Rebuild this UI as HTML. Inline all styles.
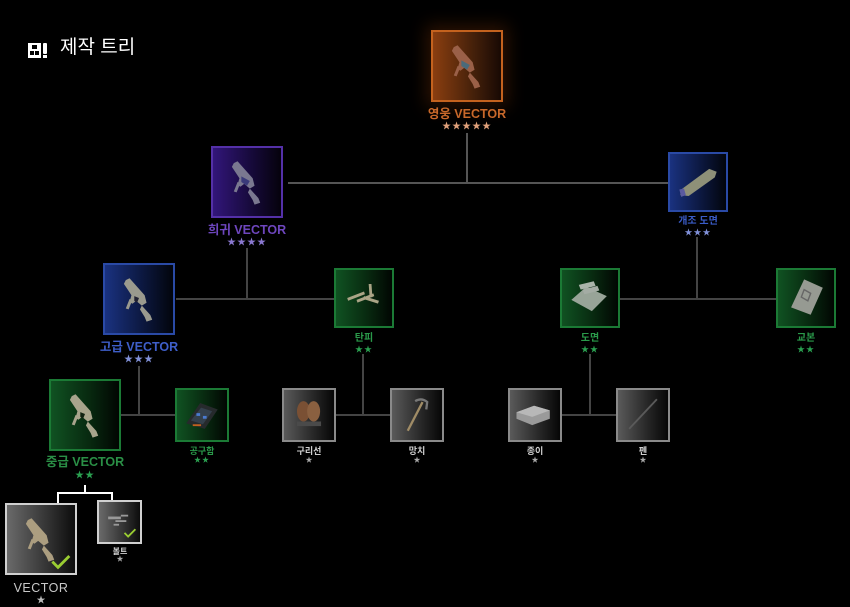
<!DOCTYPE html>
<html><head><meta charset="utf-8">
<style>
*{margin:0;padding:0;box-sizing:border-box}
html,body{width:850px;height:607px;background:#000;overflow:hidden}
body{position:relative;font-family:"Liberation Sans","Noto Sans CJK KR",sans-serif}
.b{position:absolute;border:2px solid}
.o{border-color:#c4621e;background:linear-gradient(to right,#8a3e10,#44200a 60%,#180904);box-shadow:0 0 16px 5px rgba(170,70,10,0.25)}
.p{border-color:#5430a8;background:linear-gradient(to right,#32167a,#170a3c 55%,#05020c)}
.u{border-color:#2a4aa6;background:linear-gradient(to right,#1a3280,#0c1840 55%,#02050c)}
.g{border-color:#1b7a35;background:linear-gradient(to right,#105222,#082a10 55%,#010602)}
.s{border-color:#8a8a8a;background:linear-gradient(to right,#5a5a5a,#262626 60%,#060606)}
.w{border-color:#d0d0d0;background:linear-gradient(to right,#6a6a6a,#333 60%,#0c0c0c)}
.b svg{position:absolute;left:0;top:0;width:100%;height:100%}
.l{position:absolute;text-align:center;white-space:nowrap;font-weight:bold}
.st{position:absolute;text-align:center;white-space:nowrap;line-height:10px}
.ln{position:absolute;background:#444}
</style></head><body>

<!-- title -->
<svg style="position:absolute;left:28px;top:43px" width="20" height="15" viewBox="0 0 20 15">
<rect x="0" y="0" width="13" height="15" fill="#fff"/>
<rect x="4" y="2" width="5" height="4" fill="#000"/>
<rect x="2" y="8" width="4" height="4" fill="#000"/>
<rect x="7" y="8" width="4" height="4" fill="#000"/>
<rect x="15" y="0" width="4" height="11" rx="1" fill="#fff"/>
<rect x="15" y="12" width="4" height="3" fill="#fff"/>
</svg>
<div style="position:absolute;left:60px;top:36px;font-size:19px;line-height:24px;color:#fff">제작 트리</div>

<!-- connector lines -->
<div class="ln" style="left:466px;top:133px;width:2px;height:51px;background:#555"></div>
<div class="ln" style="left:288px;top:182px;width:380px;height:2px;background:#555"></div>
<div class="ln" style="left:696px;top:237px;width:2px;height:62px"></div>
<div class="ln" style="left:246px;top:248px;width:2px;height:51px"></div>
<div class="ln" style="left:176px;top:298px;width:158px;height:2px"></div>
<div class="ln" style="left:619px;top:298px;width:157px;height:2px"></div>
<div class="ln" style="left:362px;top:354px;width:2px;height:61px"></div>
<div class="ln" style="left:336px;top:414px;width:54px;height:2px"></div>
<div class="ln" style="left:138px;top:366px;width:2px;height:49px"></div>
<div class="ln" style="left:121px;top:414px;width:54px;height:2px"></div>
<div class="ln" style="left:589px;top:354px;width:2px;height:61px"></div>
<div class="ln" style="left:562px;top:414px;width:54px;height:2px"></div>
<!-- white connector -->
<div class="ln" style="left:84px;top:485px;width:2px;height:9px;background:#fff"></div>
<div class="ln" style="left:57px;top:492px;width:56px;height:2px;background:#fff"></div>
<div class="ln" style="left:57px;top:492px;width:2px;height:11px;background:#fff"></div>
<div class="ln" style="left:111px;top:492px;width:2px;height:8px;background:#fff"></div>

<!-- hero -->
<div class="b o" style="left:431px;top:30px;width:72px;height:72px">
<svg viewBox="0 0 72 72"><g fill="#9a6048"><polygon points="22,16 26,14 42,32 44,40 39,43 33,38 29,41 26,39 28,32 20,20"/><polygon points="39,43 48,53 50,58 44,60 42,55 37,47"/><polygon points="26,36 29,37 25,47 22,46"/></g><polygon points="30,30 39,35 36,40 30,36" fill="#4a6a7a"/></svg></div>
<div class="l" style="left:407px;width:120px;top:106px;font-size:12.5px;line-height:16px;color:#c8682a">영웅 VECTOR</div>
<div class="st" style="left:407px;width:120px;top:121px;font-size:9px;color:#e0a07a;letter-spacing:1px">★★★★★</div>

<!-- rare -->
<div class="b p" style="left:211px;top:146px;width:72px;height:72px">
<svg viewBox="0 0 72 72"><g fill="#7a7890"><polygon points="22,16 26,14 42,32 44,40 39,43 33,38 29,41 26,39 28,32 20,20"/><polygon points="39,43 48,53 50,58 44,60 42,55 37,47"/><polygon points="26,36 29,37 25,47 22,46"/></g><polygon points="30,30 39,35 36,40 30,36" fill="#3a3a7a"/></svg></div>
<div class="l" style="left:187px;width:120px;top:222px;font-size:12.5px;line-height:16px;color:#6e46be">희귀 VECTOR</div>
<div class="st" style="left:187px;width:120px;top:237px;font-size:9px;color:#8a78d0;letter-spacing:1px">★★★★</div>

<!-- 개조 도면 -->
<div class="b u" style="left:668px;top:152px;width:60px;height:60px">
<svg viewBox="0 0 60 60"><polygon points="12,38 42,16 50,19 48,25 20,45 11,44" fill="#8e9078"/><polygon points="10,38 15,37 17,44 12,46" fill="#5a5aa0"/></svg></div>
<div class="l" style="left:648px;width:100px;top:215px;font-size:10px;line-height:14px;color:#3a5cc8">개조 도면</div>
<div class="st" style="left:648px;width:100px;top:228px;font-size:8px;color:#8090d8;letter-spacing:1px">★★★</div>

<!-- 고급 -->
<div class="b u" style="left:103px;top:263px;width:72px;height:72px">
<svg viewBox="0 0 72 72"><g fill="#9a9a8e"><polygon points="22,16 26,14 42,32 44,40 39,43 33,38 29,41 26,39 28,32 20,20"/><polygon points="39,43 48,53 50,58 44,60 42,55 37,47"/><polygon points="26,36 29,37 25,47 22,46"/></g><polygon points="31,33 36,35 34,40 31,38" fill="#223"/></svg></div>
<div class="l" style="left:79px;width:120px;top:339px;font-size:12.5px;line-height:16px;color:#3e5ec8">고급 VECTOR</div>
<div class="st" style="left:79px;width:120px;top:354px;font-size:9px;color:#8090d8;letter-spacing:1px">★★★</div>

<!-- 탄피 -->
<div class="b g" style="left:334px;top:268px;width:60px;height:60px">
<svg viewBox="0 0 60 60"><g fill="#aaa486"><polygon points="12,30 30,23 31,26 13,33"/><polygon points="22,32 40,25 41,28 23,35"/><polygon points="30,28 46,33 45,36 29,31"/><polygon points="35,15 38,15 39,29 36,29"/></g></svg></div>
<div class="l" style="left:314px;width:100px;top:332px;font-size:10px;line-height:14px;color:#2a9a4a">탄피</div>
<div class="st" style="left:314px;width:100px;top:345px;font-size:8px;color:#2aa050;letter-spacing:1px">★★</div>

<!-- 도면 -->
<div class="b g" style="left:560px;top:268px;width:60px;height:60px">
<svg viewBox="0 0 60 60"><polygon points="10,32 26,18 48,28 32,44" fill="#98a498"/><polygon points="18,16 34,12 36,17 20,21" fill="#aab4aa"/><polygon points="22,21 38,17 40,22 24,26" fill="#a4aca4"/></svg></div>
<div class="l" style="left:540px;width:100px;top:332px;font-size:10px;line-height:14px;color:#2a9a4a">도면</div>
<div class="st" style="left:540px;width:100px;top:345px;font-size:8px;color:#2aa050;letter-spacing:1px">★★</div>

<!-- 교본 -->
<div class="b g" style="left:776px;top:268px;width:60px;height:60px">
<svg viewBox="0 0 60 60"><polygon points="14,40 28,10 48,19 35,48" fill="#969a92"/><polygon points="28,21 35,25 32,33 25,29" fill="none" stroke="#666" stroke-width="1.5"/></svg></div>
<div class="l" style="left:756px;width:100px;top:332px;font-size:10px;line-height:14px;color:#2a9a4a">교본</div>
<div class="st" style="left:756px;width:100px;top:345px;font-size:8px;color:#2aa050;letter-spacing:1px">★★</div>

<!-- 중급 -->
<div class="b g" style="left:49px;top:379px;width:72px;height:72px">
<svg viewBox="0 0 72 72"><g fill="#a8a48c"><polygon points="22,16 26,14 42,32 44,40 39,43 33,38 29,41 26,39 28,32 20,20"/><polygon points="39,43 48,53 50,58 44,60 42,55 37,47"/><polygon points="26,36 29,37 25,47 22,46"/></g><polygon points="31,33 36,35 34,40 31,38" fill="#121"/></svg></div>
<div class="l" style="left:25px;width:120px;top:454px;font-size:12.5px;line-height:16px;color:#2a8f46">중급 VECTOR</div>
<div class="st" style="left:25px;width:120px;top:470px;font-size:9px;color:#2aa050;letter-spacing:1px">★★</div>

<!-- 공구함 -->
<div class="b g" style="left:175px;top:388px;width:54px;height:54px">
<svg viewBox="0 0 54 54"><polygon points="10,36 25,14 44,21 30,42" fill="#262a2c"/><polygon points="15,33 26,19 38,23 28,37" fill="#34404c"/><rect x="21" y="25" width="4" height="3" fill="#4a7ad0"/><rect x="28" y="28" width="4" height="3" fill="#4a7ad0"/><rect x="17" y="37" width="9" height="2" fill="#c06020"/></svg></div>
<div class="l" style="left:152px;width:100px;top:445px;font-size:9px;line-height:12px;color:#2a9a4a">공구함</div>
<div class="st" style="left:152px;width:100px;top:456px;font-size:7px;color:#2aa050;letter-spacing:1px">★★</div>

<!-- 구리선 -->
<div class="b s" style="left:282px;top:388px;width:54px;height:54px">
<svg viewBox="0 0 54 54"><ellipse cx="21" cy="23" rx="7" ry="11" fill="#7a5034"/><ellipse cx="32" cy="23" rx="7" ry="11" fill="#8a6040"/><rect x="14" y="34" width="26" height="5" fill="#4a4a4a"/></svg></div>
<div class="l" style="left:259px;width:100px;top:445px;font-size:9px;line-height:12px;color:#d0d0d0">구리선</div>
<div class="st" style="left:259px;width:100px;top:456px;font-size:7px;color:#aaa">★</div>

<!-- 망치 -->
<div class="b s" style="left:390px;top:388px;width:54px;height:54px">
<svg viewBox="0 0 54 54"><line x1="17" y1="44" x2="33" y2="13" stroke="#a08c66" stroke-width="2.5"/><path d="M25,12 Q32,8 38,13 L37,21" stroke="#777" stroke-width="2.5" fill="none"/></svg></div>
<div class="l" style="left:367px;width:100px;top:445px;font-size:9px;line-height:12px;color:#d0d0d0">망치</div>
<div class="st" style="left:367px;width:100px;top:456px;font-size:7px;color:#aaa">★</div>

<!-- 종이 -->
<div class="b s" style="left:508px;top:388px;width:54px;height:54px">
<svg viewBox="0 0 54 54"><polygon points="7,24 26,17 43,22 43,31 24,38 7,31" fill="#9a9a9a"/><polygon points="7,24 26,17 43,22 24,29" fill="#b8b8b8"/></svg></div>
<div class="l" style="left:485px;width:100px;top:445px;font-size:9px;line-height:12px;color:#d0d0d0">종이</div>
<div class="st" style="left:485px;width:100px;top:456px;font-size:7px;color:#aaa">★</div>

<!-- 펜 -->
<div class="b s" style="left:616px;top:388px;width:54px;height:54px">
<svg viewBox="0 0 54 54"><line x1="12" y1="42" x2="42" y2="10" stroke="#5a5a5a" stroke-width="2"/></svg></div>
<div class="l" style="left:593px;width:100px;top:445px;font-size:9px;line-height:12px;color:#d0d0d0">펜</div>
<div class="st" style="left:593px;width:100px;top:456px;font-size:7px;color:#aaa">★</div>

<!-- VECTOR -->
<div class="b w" style="left:5px;top:503px;width:72px;height:72px">
<svg viewBox="0 0 72 72"><g fill="#ac9e80"><polygon points="22,16 26,14 42,32 44,40 39,43 33,38 29,41 26,39 28,32 20,20"/><polygon points="39,43 48,53 50,58 44,60 42,55 37,47"/><polygon points="26,36 29,37 25,47 22,46"/></g><polyline points="48,60 54,66 66,54" fill="none" stroke="#9acd32" stroke-width="3"/></svg></div>
<div class="l" style="left:-19px;width:120px;top:580px;font-size:12.5px;line-height:16px;color:#c8c8c8;font-weight:normal;letter-spacing:0.5px">VECTOR</div>
<div class="st" style="left:-19px;width:120px;top:595px;font-size:9px;color:#bbb">★</div>

<!-- 볼트 -->
<div class="b w" style="left:97px;top:500px;width:45px;height:44px">
<svg viewBox="0 0 45 44"><g fill="#999"><rect x="10" y="16" width="14" height="3"/><rect x="18" y="20" width="12" height="2"/><rect x="24" y="14" width="8" height="2"/><rect x="16" y="24" width="6" height="2"/></g><polyline points="28,34 32,38 40,30" fill="none" stroke="#9acd32" stroke-width="2"/></svg></div>
<div class="l" style="left:70px;width:100px;top:546px;font-size:8px;line-height:11px;color:#d0d0d0">볼트</div>
<div class="st" style="left:70px;width:100px;top:555px;font-size:7px;color:#aaa">★</div>

</body></html>
